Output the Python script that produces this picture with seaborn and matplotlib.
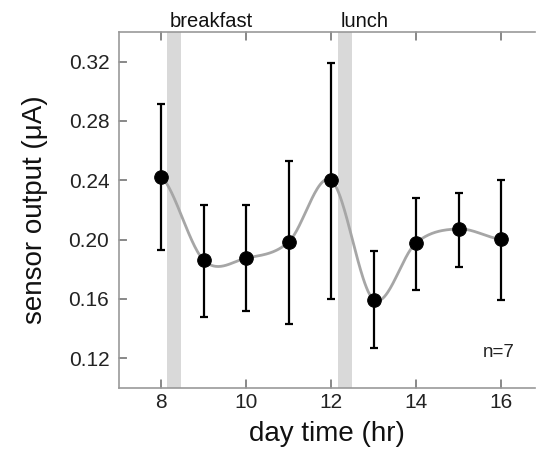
import numpy as np
import matplotlib
matplotlib.use("Agg")
import matplotlib.pyplot as plt
import seaborn as sns

# Datos
hours = [8, 9, 10, 11, 12, 13, 14, 15, 16]
output = [0.2425, 0.1860, 0.1875, 0.1985, 0.2400, 0.1595, 0.1978, 0.2072, 0.2002]
err_hi = [0.2916, 0.2236, 0.2232, 0.2529, 0.3193, 0.1921, 0.2281, 0.2315, 0.2401]
err_lo = [0.1928, 0.1477, 0.1520, 0.1430, 0.1599, 0.1267, 0.1662, 0.1817, 0.1594]
x_ticks = [8, 10, 12, 14, 16]
y_ticks = [0.12, 0.16, 0.20, 0.24, 0.28, 0.32]
meals = ["breakfast", "lunch"]
meal_start = [8.12, 12.15]
meal_end = [8.45, 12.48]

sns.set_style("white")
plt.rcParams['font.family'] = ['Liberation Sans', 'DejaVu Sans']


def catmull_rom(x, y, xs):
    # curva suavizada tipo Catmull-Rom (como la línea suavizada de una hoja de cálculo)
    x = np.asarray(x, float)
    y = np.asarray(y, float)
    n = len(x)
    h = np.diff(x)
    yp = np.concatenate([[y[0]], y, [y[-1]]])
    m = (yp[2:] - yp[:-2]) / 2
    idx = np.clip(np.searchsorted(x, xs) - 1, 0, n - 2)
    t = (xs - x[idx]) / h[idx]
    h00 = 2 * t ** 3 - 3 * t ** 2 + 1
    h10 = t ** 3 - 2 * t ** 2 + t
    h01 = -2 * t ** 3 + 3 * t ** 2
    h11 = t ** 3 - t ** 2
    return h00 * y[idx] + h10 * m[idx] + h01 * y[idx + 1] + h11 * m[idx + 1]


fig = plt.figure(figsize=(5.36, 4.5), dpi=100)
ax = fig.add_axes([0.222, 0.138, 0.776, 0.791])

for s, e in zip(meal_start, meal_end):
    ax.axvspan(s, e, color="#d9d9d9", lw=0, zorder=0)

xs = np.linspace(hours[0], hours[-1], 400)
sns.lineplot(x=xs, y=catmull_rom(hours, output, xs), color="#a6a6a6",
             lw=2.0, ax=ax, zorder=2)

yerr = [np.array(output) - np.array(err_lo), np.array(err_hi) - np.array(output)]
ax.errorbar(hours, output, yerr=yerr, fmt="none", ecolor="black",
            elinewidth=1.6, capsize=3, capthick=1.6, zorder=3)
sns.scatterplot(x=hours, y=output, color="black", s=95, edgecolor="black",
                ax=ax, zorder=4)

ax.set_xlim(7.0, 16.8)
ax.set_ylim(0.10, 0.34)
ax.set_xticks(x_ticks)
ax.set_yticks(y_ticks)
ax.set_yticklabels([f"{v:.2f}" for v in y_ticks])
ax.tick_params(axis="both", which="major", direction="in", length=6,
               width=1.2, color="#888888", labelsize=15, labelcolor="#222222",
               bottom=True, top=True, left=True, right=False)
ax.tick_params(axis="y", pad=7)
ax.tick_params(axis="x", pad=4)

# marcas de graduación hacia dentro (refuerzo)
xt = ax.get_xaxis_transform()
yt = ax.get_yaxis_transform()
for v in x_ticks:
    ax.plot([v, v], [0, 0.022], transform=xt, color="#888888", lw=1.2, clip_on=False)
    ax.plot([v, v], [1, 0.978], transform=xt, color="#888888", lw=1.2, clip_on=False)
for v in y_ticks:
    ax.plot([0, 0.018], [v, v], transform=yt, color="#888888", lw=1.2, clip_on=False)

for side in ["left", "bottom", "top"]:
    ax.spines[side].set_color("#999999")
    ax.spines[side].set_linewidth(1.2)
ax.spines["right"].set_visible(False)

ax.set_xlabel("day time (hr)", fontsize=20, color="#111111", labelpad=6)
ax.set_ylabel("sensor output (μA)", fontsize=20, color="#111111", labelpad=15)

for name, s in zip(meals, meal_start):
    ax.text(s + 0.08, 1.004, name, transform=ax.get_xaxis_transform(),
            fontsize=14.5, ha="left", va="bottom", color="#111111")

ax.text(15.56, 0.124, "n=7", fontsize=13.5, ha="left", va="center", color="#222222")

fig.savefig("out.png", dpi=100)
